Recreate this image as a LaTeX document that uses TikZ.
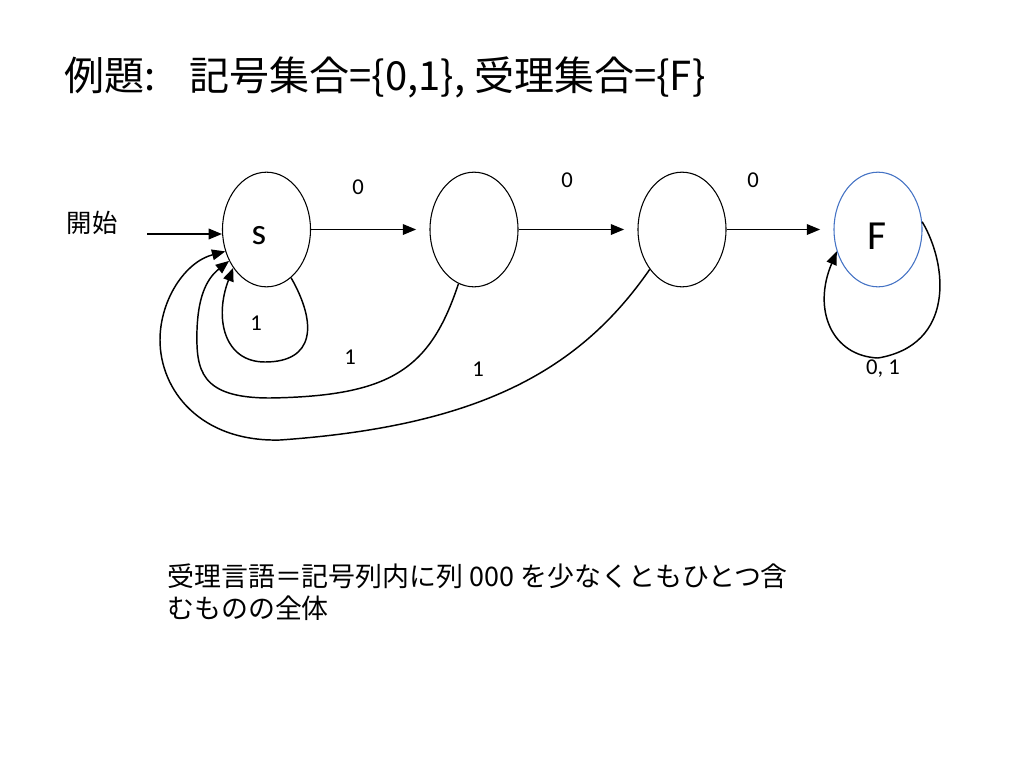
\documentclass[tikz,border=0pt]{standalone}
\usepackage{fontspec}
\setmainfont{Carlito}
\newfontfamily\jp{Noto Sans CJK JP}
\usetikzlibrary{arrows.meta,shapes.geometric}
\definecolor{fblue}{RGB}{68,114,196}
\tikzset{
  state/.style={draw, ellipse, line width=0.8pt, minimum width=66pt, minimum height=86pt, inner sep=0pt},
  trans/.style={line width=1.1pt, -{Triangle[length=10pt,width=8pt]}},
  lbl/.style={font=\fontsize{17}{20}\selectfont, inner sep=0pt},
}
\begin{document}
\begin{tikzpicture}[x=0.75pt,y=-0.75pt]
\useasboundingbox[fill=white] (0,0) rectangle (1024,768);
% title
\node[anchor=west, inner sep=0pt, font=\jp\fontsize{30}{36}\selectfont] (title) at (64,77) {例題:\hspace{0.85em}記号集合=\{0,1\}, 受理集合=\{F\}};
% states
\node[state] (s) at (266.5,229.5) {};
\node[state, draw=fblue] (F) at (878,229.5) {};
\node[state] (q1) at (474,229.5) {};
\node[state] (q2) at (682,229.5) {};
\node[inner sep=0pt, font=\fontsize{28}{30}\selectfont] (sl) at (259,236) {s};
\node[inner sep=0pt, font=\fontsize{31}{34}\selectfont] (Fl) at (877,236) {F};
% start
\node[font=\jp\fontsize{19}{22}\selectfont, inner sep=0pt] (start) at (92,223) {開始};
\coordinate (st) at (147,234);
\draw[trans] (st) -- (s.west |- st);
% forward edges
\draw[trans, shorten >=10pt] (s.east) -- (q1.west);
\draw[trans, shorten >=10pt] (q1.east) -- (q2.west);
\draw[trans, shorten >=10pt] (q2.east) -- (F.west);
% back edges
\draw[trans] (s.-63) .. controls (318,325) and (314,362) .. (265,362) .. controls (224,362) and (214,318) .. (s.-131);
\draw[trans] (q1.-106) .. controls (430,370) and (390,396) .. (270,398) .. controls (200,398) and (196,370) .. (197,330) .. controls (198,300) and (205,280) .. (s.-140);
\draw[trans] (q2.-129) .. controls (580,370) and (480,426) .. (280,440) .. controls (200,442) and (160,390) .. (160,340) .. controls (160,300) and (185,262) .. (s.-152);
\draw[trans] (F.10) .. controls (948,265) and (955,345) .. (878,358) .. controls (832,356) and (812,310) .. (F.-152);
% labels
\node[lbl] (l0a) at (358,187) {0};
\node[lbl] (l0b) at (567,180) {0};
\node[lbl] (l0c) at (753,180) {0};
\node[lbl] (l1a) at (256,323) {1};
\node[lbl] (l1b) at (350,357) {1};
\node[lbl] (l1c) at (478,369) {1};
\node[lbl] (l01) at (883,369) {0, 1};
% bottom text
\node[anchor=north west, inner sep=0pt, align=left, font=\jp\fontsize{20.2}{24}\selectfont] (desc) at (167,563) {受理言語＝記号列内に列 000 を少なくともひとつ含\\むものの全体};
\end{tikzpicture}
\end{document}
